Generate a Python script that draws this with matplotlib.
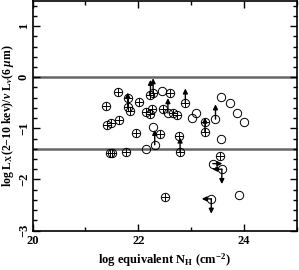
import matplotlib
matplotlib.use('Agg')
import matplotlib.pyplot as plt
from matplotlib.ticker import MultipleLocator

# --- dados ---
# circulos com cruz, sem seta
cp_x = [21.62, 21.80, 21.85, 22.01, 21.38, 21.49, 21.40, 21.63, 21.96, 22.14,
        22.23, 22.26, 22.59, 22.47, 22.66, 22.74, 22.41, 22.77, 23.26, 23.55,
        21.47, 21.51, 21.76, 22.51]
cp_y = [-0.29, -0.41, -0.66, -0.48, -0.57, -0.90, -0.94, -0.83, -1.10, -0.68,
        -0.72, -0.63, -0.31, -0.63, -0.70, -0.73, -1.11, -1.15, -0.88, -1.55,
        -1.48, -1.48, -1.46, -2.34]

# circulos com cruz, limite inferior (seta para cima)
cp_up_x = [21.80, 22.23, 22.28, 22.89, 23.26, 22.79]
cp_up_y = [-0.59, -0.34, -0.31, -0.51, -1.08, -1.47]

# circulos abertos
oc_x = [22.45, 22.27, 22.15, 23.01, 23.09, 23.56, 23.74, 23.87, 23.99, 23.56, 23.90]
oc_y = [-0.27, -0.98, -1.41, -0.80, -0.70, -0.38, -0.51, -0.70, -0.87, -1.21, -2.30]

# circulos abertos com seta para cima
oc_up_x = [22.56, 23.46, 22.31]
oc_up_y = [-0.70, -0.82, -1.32]

# circulo com seta para a direita
oc_right_x = [23.41]
oc_right_y = [-1.69]

# circulos com seta para a esquerda e para baixo
oc_ld_x = [23.58, 23.38]
oc_ld_y = [-1.80, -2.38]

linhas_h = [0.0, -1.4]

plt.rcParams['font.family'] = 'Liberation Serif'
plt.rcParams['font.weight'] = 'bold'
plt.rcParams['mathtext.fontset'] = 'custom'
plt.rcParams['mathtext.rm'] = 'Liberation Serif:bold'
plt.rcParams['mathtext.it'] = 'Liberation Serif:bold:italic'
plt.rcParams['mathtext.bf'] = 'Liberation Serif:bold'

fig = plt.figure(figsize=(2.99, 2.70), dpi=100)
ax = fig.add_axes([0.109, 0.146, 0.884, 0.852])

for y in linhas_h:
    ax.axhline(y, color='#666666', lw=1.8, zorder=1)

ms = 6
todos_cp_x = cp_x + cp_up_x
todos_cp_y = cp_y + cp_up_y
ax.plot(todos_cp_x, todos_cp_y, 'o', mfc='none', mec='k', ms=ms, mew=0.7, ls='none')
ax.plot(todos_cp_x, todos_cp_y, '+', color='k', ms=ms, mew=0.7, ls='none')

aberto_x = oc_x + oc_up_x + oc_right_x + oc_ld_x
aberto_y = oc_y + oc_up_y + oc_right_y + oc_ld_y
ax.plot(aberto_x, aberto_y, 'o', mfc='none', mec='k', ms=ms, mew=0.7, ls='none')


def seta(x, y, dx, dy):
    ax.annotate('', xy=(x + dx, y + dy), xytext=(x, y),
                arrowprops=dict(arrowstyle='-|>', color='k', lw=1.0,
                                mutation_scale=7, shrinkA=0, shrinkB=0))


for x, y in zip(cp_up_x + oc_up_x, cp_up_y + oc_up_y):
    seta(x, y, 0, 0.29)
for x, y in zip(oc_right_x, oc_right_y):
    seta(x, y, 0.18, 0)
for x, y in zip(oc_ld_x, oc_ld_y):
    seta(x, y, -0.18, 0)
    seta(x, y, 0, -0.29)

ax.set_xlim(20, 25)
ax.set_ylim(-3, 1.5)
ax.xaxis.set_major_locator(MultipleLocator(2))
ax.xaxis.set_minor_locator(MultipleLocator(1))
ax.yaxis.set_major_locator(MultipleLocator(1))
ax.yaxis.set_minor_locator(MultipleLocator(0.2))
ax.tick_params(which='both', direction='in', top=True, right=True, labelsize=9, width=1)
ax.tick_params(which='major', length=5)
ax.tick_params(which='minor', length=3)
ax.tick_params(axis='y', pad=2)
for lab in ax.get_yticklabels():
    lab.set_rotation(90)
    lab.set_va('center')
for s in ax.spines.values():
    s.set_linewidth(1.2)

ax.set_xlabel(r'log equivalent N$_{\rm H}$ (cm$^{-2}$)', fontsize=9, fontweight='bold', labelpad=3)
ax.set_ylabel(r'log L$_{\rm X}$(2$-$10 kev)/$\nu$ L$_\nu$(6 $\mu$m)', fontsize=8.5,
              fontweight='bold', labelpad=1)

plt.savefig('out.png', dpi=100)
